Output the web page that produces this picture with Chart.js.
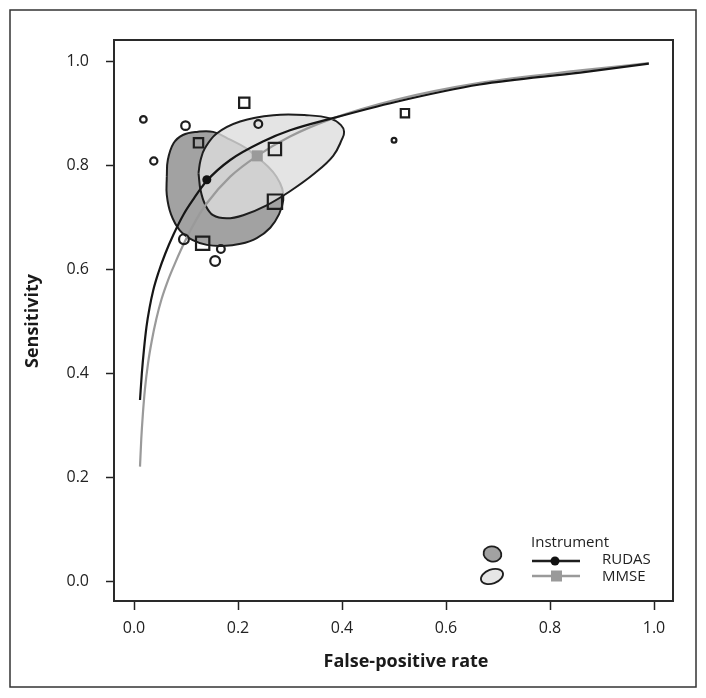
<!DOCTYPE html>
<html><head><meta charset="utf-8">
<script src="https://cdn.jsdelivr.net/npm/chart.js@4.4.1/dist/chart.umd.min.js"></script>
<style>html,body{margin:0;padding:0;background:#fff}canvas{display:block}</style>
</head><body>
<canvas id="c" width="706" height="698"></canvas>
<script>
// ---- data ----
const xTicks = [0, 0.2, 0.4, 0.6, 0.8, 1.0];
const yTicks = [0, 0.2, 0.4, 0.6, 0.8, 1.0];
const xTitle = 'False-positive rate';
const yTitle = 'Sensitivity';
const legendTitle = 'Instrument';
const seriesNames = ['RUDAS', 'MMSE'];

// study estimates
const rudasStudyFpr  = [0.018, 0.038, 0.099, 0.239, 0.096, 0.167, 0.156, 0.500];
const rudasStudySens = [0.888, 0.808, 0.876, 0.879, 0.658, 0.639, 0.616, 0.848];
const rudasStudyWeight = [3.3, 3.6, 4.3, 3.9, 4.9, 3.9, 4.9, 2.4];
const mmseStudyFpr  = [0.212, 0.124, 0.271, 0.271, 0.132, 0.521];
const mmseStudySens = [0.920, 0.843, 0.831, 0.730, 0.650, 0.900];
const mmseStudyWeight = [7.3, 6.6, 8.7, 10.1, 9.4, 5.9];

// summary points
const rudasSummary = [0.140, 0.772];
const mmseSummary  = [0.237, 0.818];

// summary ROC curves
const rudasCurveFpr  = [0.0115, 0.015, 0.019, 0.024, 0.030, 0.037, 0.047, 0.060, 0.075, 0.095, 0.115, 0.140, 0.185, 0.249, 0.300, 0.377, 0.505, 0.665, 0.858, 0.990];
const rudasCurveSens = [0.349, 0.400, 0.445, 0.490, 0.527, 0.560, 0.594, 0.630, 0.665, 0.705, 0.736, 0.770, 0.810, 0.846, 0.867, 0.889, 0.922, 0.955, 0.978, 0.995];
const mmseCurveFpr  = [0.0115, 0.014, 0.017, 0.021, 0.027, 0.034, 0.043, 0.053, 0.065, 0.079, 0.101, 0.120, 0.140, 0.185, 0.237, 0.300, 0.377, 0.505, 0.665, 0.858, 0.990];
const mmseCurveSens = [0.221, 0.275, 0.322, 0.370, 0.420, 0.462, 0.505, 0.543, 0.578, 0.612, 0.660, 0.696, 0.727, 0.778, 0.818, 0.855, 0.888, 0.926, 0.958, 0.982, 0.996];

// confidence regions
const rudasRegionFpr  = [0.063, 0.065, 0.076, 0.094, 0.121, 0.152, 0.185, 0.215, 0.236, 0.258, 0.274, 0.285, 0.287, 0.279, 0.262, 0.236, 0.205, 0.170, 0.140, 0.113, 0.088, 0.071, 0.063];
const rudasRegionSens = [0.778, 0.810, 0.842, 0.858, 0.864, 0.864, 0.849, 0.833, 0.816, 0.797, 0.778, 0.755, 0.733, 0.706, 0.680, 0.660, 0.649, 0.645, 0.647, 0.656, 0.675, 0.706, 0.743];
const mmseRegionFpr  = [0.124, 0.128, 0.136, 0.159, 0.204, 0.268, 0.332, 0.377, 0.398, 0.404, 0.400, 0.383, 0.348, 0.300, 0.255, 0.210, 0.178, 0.152, 0.137, 0.128];
const mmseRegionSens = [0.785, 0.810, 0.832, 0.861, 0.884, 0.896, 0.896, 0.890, 0.877, 0.864, 0.850, 0.818, 0.785, 0.750, 0.723, 0.704, 0.698, 0.704, 0.724, 0.752];

// ---- helpers ----
const pts = (xs, ys) => xs.map((x, i) => ({x: x, y: ys[i]}));
const closed = (xs, ys) => { const p = pts(xs, ys); p.push({x: xs[0], y: ys[0]}); return p; };

const DARK = '#a2a2a2', LIGHT = 'rgba(221,221,221,0.8)', INK = '#1e1e1e', GREY = '#9a9a9a';
const FONT = '"Open Sans", "Noto Sans", sans-serif';

const decor = {
  id: 'decor',
  beforeDraw(chart) {
    const c = chart.ctx;
    c.save();
    c.fillStyle = '#fff';
    c.fillRect(0, 0, chart.width, chart.height);
    c.strokeStyle = '#333';
    c.lineWidth = 1.5;
    c.strokeRect(10, 10, 686, 677);
    c.restore();
  },
  afterDraw(chart) {
    const c = chart.ctx, a = chart.chartArea;
    c.save();
    // plot box
    c.strokeStyle = '#2a2a2a';
    c.lineWidth = 2;
    c.strokeRect(a.left, a.top, a.right - a.left, a.bottom - a.top);
    // axis titles
    c.fillStyle = '#1a1a1a';
    c.font = 'bold 18px ' + FONT;
    c.textAlign = 'center';
    c.textBaseline = 'middle';
    c.fillText(xTitle, 406, 662);
    c.save();
    c.translate(33, 321);
    c.rotate(-Math.PI / 2);
    c.fillText(yTitle, 0, 0);
    c.restore();
    // legend
    c.font = '15px ' + FONT;
    c.textAlign = 'left';
    c.fillStyle = '#222';
    c.fillText(legendTitle, 531, 543);
    c.fillText(seriesNames[0], 602, 560);
    c.fillText(seriesNames[1], 602, 577);
    // legend lines
    c.lineWidth = 2.5;
    c.strokeStyle = INK;
    c.beginPath(); c.moveTo(532, 561); c.lineTo(580, 561); c.stroke();
    c.fillStyle = '#111';
    c.beginPath(); c.arc(555, 561, 4.5, 0, Math.PI * 2); c.fill();
    c.strokeStyle = GREY;
    c.beginPath(); c.moveTo(532, 576); c.lineTo(580, 576); c.stroke();
    c.fillStyle = GREY;
    c.fillRect(551, 570.5, 11, 11);
    // legend blobs
    c.lineWidth = 1.8;
    c.strokeStyle = INK;
    c.fillStyle = DARK;
    c.beginPath(); c.ellipse(492.5, 554, 9, 7.5, 0.25, 0, Math.PI * 2); c.fill(); c.stroke();
    c.fillStyle = '#e6e6e6';
    c.beginPath(); c.ellipse(492, 576.5, 11.5, 7, -0.35, 0, Math.PI * 2); c.fill(); c.stroke();
    c.restore();
  }
};

const tickFont = {family: FONT, size: 16};

const chart = new Chart(document.getElementById('c'), {
  type: 'scatter',
  data: {
    datasets: [
      {type: 'line', label: 'RUDAS region', data: closed(rudasRegionFpr, rudasRegionSens),
       borderColor: INK, borderWidth: 2, backgroundColor: DARK, fill: 'shape', tension: 0.4,
       pointRadius: 0, order: 6},
      {type: 'line', label: 'MMSE region', data: closed(mmseRegionFpr, mmseRegionSens),
       borderColor: INK, borderWidth: 2, backgroundColor: LIGHT, fill: 'shape', tension: 0.4,
       pointRadius: 0, order: 5},
      {type: 'line', label: 'MMSE curve', data: pts(mmseCurveFpr, mmseCurveSens),
       borderColor: GREY, borderWidth: 2.2, fill: false, cubicInterpolationMode: 'monotone',
       pointRadius: 0, order: 4},
      {type: 'line', label: 'RUDAS curve', data: pts(rudasCurveFpr, rudasCurveSens),
       borderColor: '#161616', borderWidth: 2.2, fill: false, cubicInterpolationMode: 'monotone',
       pointRadius: 0, order: 3},
      {label: 'RUDAS studies', data: pts(rudasStudyFpr, rudasStudySens),
       pointStyle: 'circle', pointRadius: rudasStudyWeight, pointBorderWidth: 2.2,
       borderColor: INK, pointBorderColor: INK, backgroundColor: 'rgba(0,0,0,0)', pointBackgroundColor: 'rgba(0,0,0,0)', order: 2},
      {label: 'MMSE studies', data: pts(mmseStudyFpr, mmseStudySens),
       pointStyle: 'rect', pointRadius: mmseStudyWeight, pointBorderWidth: 2.2,
       borderColor: INK, pointBorderColor: INK, backgroundColor: 'rgba(0,0,0,0)', pointBackgroundColor: 'rgba(0,0,0,0)', order: 2},
      {label: 'MMSE summary', data: [{x: mmseSummary[0], y: mmseSummary[1]}],
       pointStyle: 'rect', pointRadius: 7.8, pointBorderWidth: 0,
       pointBackgroundColor: GREY, backgroundColor: GREY, order: 1},
      {label: 'RUDAS summary', data: [{x: rudasSummary[0], y: rudasSummary[1]}],
       pointStyle: 'circle', pointRadius: 4.5, pointBorderWidth: 0,
       pointBackgroundColor: '#111', backgroundColor: '#111', order: 0}
    ]
  },
  options: {
    responsive: false,
    animation: false,
    devicePixelRatio: 1,
    events: [],
    layout: {padding: {left: 0, top: 40, right: 33, bottom: 0}},
    plugins: {legend: {display: false}, tooltip: {enabled: false}},
    scales: {
      x: {
        type: 'linear', position: 'bottom', min: -0.0385, max: 1.0365,
        afterBuildTicks: s => { s.ticks = xTicks.map(v => ({value: v})); },
        afterFit: s => { s.height = 97; },
        grid: {display: true, drawOnChartArea: false, drawTicks: true, tickLength: 9, tickWidth: 1.5, tickColor: '#222'},
        border: {display: false},
        ticks: {padding: 9, font: tickFont, color: '#222', maxRotation: 0, autoSkip: false,
                callback: v => Number(v).toFixed(1)}
      },
      y: {
        type: 'linear', position: 'left', min: -0.037, max: 1.0405,
        afterBuildTicks: s => { s.ticks = yTicks.map(v => ({value: v})); },
        afterFit: s => { s.width = 114; },
        grid: {display: true, drawOnChartArea: false, drawTicks: true, tickLength: 8, tickWidth: 1.5, tickColor: '#222'},
        border: {display: false},
        ticks: {padding: 17, font: tickFont, color: '#222', autoSkip: false,
                callback: v => Number(v).toFixed(1)}
      }
    }
  },
  plugins: [decor]
});
if (document.fonts && document.fonts.ready) document.fonts.ready.then(() => chart.update());
</script>
</body></html>
